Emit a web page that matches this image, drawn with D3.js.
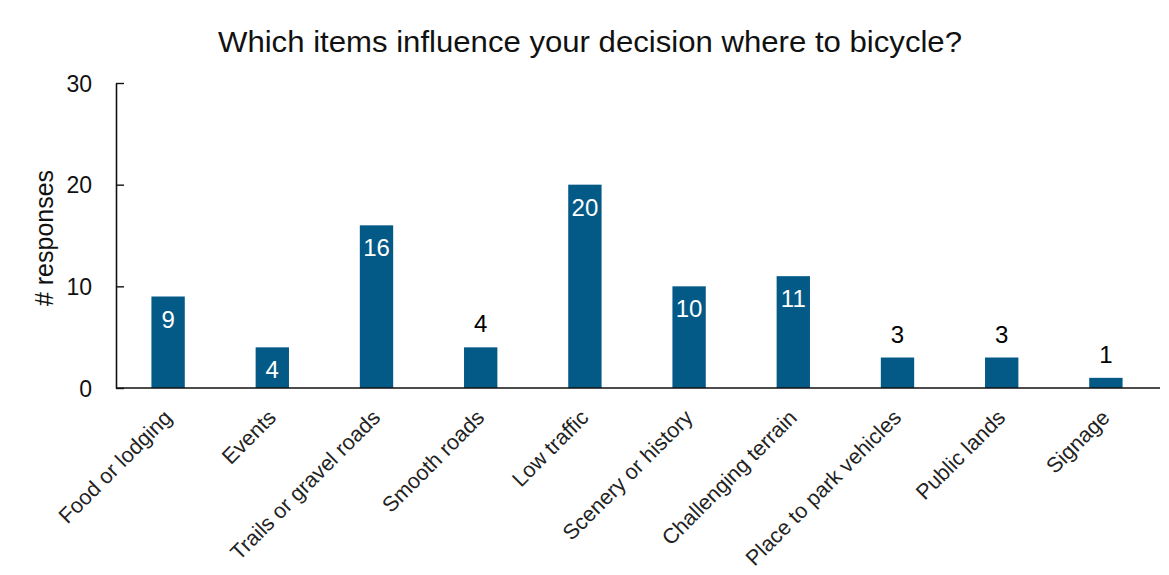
<!DOCTYPE html>
<html>
<head>
<meta charset="utf-8">
<script src="https://cdn.jsdelivr.net/npm/d3@7"></script>
<style>
  body { margin: 0; background: #fff; }
  text { font-family: "Liberation Sans", Arial, sans-serif; }
</style>
</head>
<body>
<div class="chart"></div>
<script>
// data
const categories = ["Food or lodging", "Events", "Trails or gravel roads", "Smooth roads", "Low traffic",
  "Scenery or history", "Challenging terrain", "Place to park vehicles", "Public lands", "Signage"]
const responses = [9, 4, 16, 4, 20, 10, 11, 3, 3, 1]
const yTicks = [0, 10, 20, 30]
// which bars have their number written above instead of inside
const labelAbove = ["Smooth roads", "Place to park vehicles", "Public lands", "Signage"]

const data = categories.map((c, i) => ({ name: c, value: responses[i] }))

const w = 1169
const h = 575
const plotLeft = 116
const plotRight = 1158
const plotTop = 83
const plotBottom = 388

const svg = d3.select(".chart")
  .append("svg")
  .attr("width", w)
  .attr("height", h)
  .style("background-color", "#fff")

const xScale = d3.scaleBand()
  .domain(categories)
  .range([plotLeft, plotRight])
  .paddingInner(0.68)
  .paddingOuter(0.34)

const yScale = d3.scaleLinear()
  .domain([0, 30])
  .range([plotBottom, plotTop])

// title
svg.append("text")
  .attr("x", 590)
  .attr("y", 52)
  .attr("text-anchor", "middle")
  .attr("font-size", 30)
  .attr("textLength", 744)
  .attr("lengthAdjust", "spacingAndGlyphs")
  .attr("fill", "#111")
  .text("Which items influence your decision where to bicycle?")

// bars
svg.selectAll("rect.bar")
  .data(data)
  .enter()
  .append("rect")
  .attr("class", "bar")
  .attr("x", d => xScale(d.name))
  .attr("y", d => yScale(d.value))
  .attr("width", xScale.bandwidth())
  .attr("height", d => yScale(0) - yScale(d.value))
  .attr("fill", "#045a86")

// value labels
svg.selectAll("text.val")
  .data(data)
  .enter()
  .append("text")
  .attr("class", "val")
  .attr("x", d => xScale(d.name) + xScale.bandwidth() / 2)
  .attr("y", d => labelAbove.includes(d.name) ? yScale(d.value) - 15 : yScale(d.value) + 31)
  .attr("text-anchor", "middle")
  .attr("font-size", 24)
  .attr("fill", d => labelAbove.includes(d.name) ? "#000" : "#fff")
  .text(d => d.value)

// y axis
const yAxis = d3.axisRight(yScale)
  .tickValues(yTicks)
  .tickSize(8)
  .tickSizeOuter(0)
  .tickFormat(d => d)
const gy = svg.append("g")
  .attr("transform", "translate(" + plotLeft + ",0)")
  .call(yAxis)
gy.select(".domain").attr("stroke", "#111").attr("stroke-width", 1.6)
gy.selectAll(".tick line").attr("stroke", "#111").attr("stroke-width", 1.4)
gy.selectAll(".tick text")
  .attr("x", -24)
  .attr("dy", "0.36em")
  .attr("text-anchor", "end")
  .attr("font-size", 23)
  .attr("font-family", "Liberation Sans, Arial, sans-serif")
  .attr("fill", "#111")

// x axis
const xAxis = d3.axisBottom(xScale).tickSize(0).tickSizeOuter(0)
const gx = svg.append("g")
  .attr("transform", "translate(0," + plotBottom + ")")
  .call(xAxis)
gx.select(".domain").attr("d", "M" + plotLeft + ",0H1160").attr("stroke", "#111").attr("stroke-width", 1.6)
gx.selectAll(".tick text")
  .attr("font-size", 21.5)
  .attr("font-family", "Liberation Sans, Arial, sans-serif")
  .attr("fill", "#222")
  .attr("text-anchor", "end")
  .attr("x", 0)
  .attr("y", 0)
  .attr("dy", 0)
  .attr("transform", "translate(5,31) rotate(-45)")

// y axis title
svg.append("text")
  .attr("transform", "translate(53,238) rotate(-90)")
  .attr("text-anchor", "middle")
  .attr("font-size", 25)
  .attr("fill", "#111")
  .text("# responses")
</script>
</body>
</html>
